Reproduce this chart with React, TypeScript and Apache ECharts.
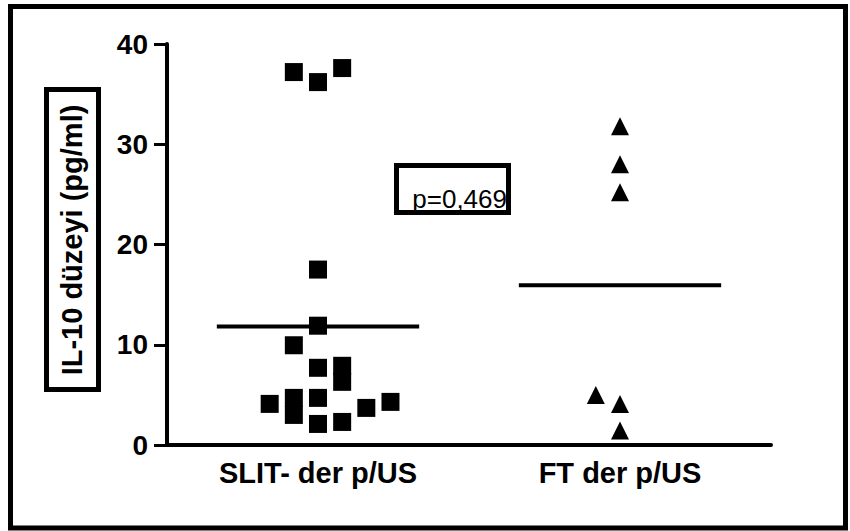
import React, { useEffect, useRef } from "react";
import * as echarts from "echarts";

// Group labels on the category axis
const categories = ["SLIT- der p/US", "FT der p/US"];

// IL-10 levels (pg/ml) per group, with the column each point is nudged into
const slitValues = [37.2, 36.2, 37.6, 17.5, 11.9, 9.95, 7.7, 7.9, 6.3, 4.1, 4.7, 3.0, 4.7, 2.1, 2.3, 3.7, 4.3];
const slitColumns = [-1, 0, 1, 0, 0, -1, 0, 1, 1, -2, -1, -1, 0, 0, 1, 2, 3];
const ftValues = [31.8, 28.0, 25.2, 5.0, 4.1, 1.45];
const ftColumns = [0, 0, 0, -1, 0, 0];

// Value-axis ticks
const yMin = 0;
const yMax = 40;
const yStep = 10;

const pLabel = "p=0,469";
const yTitle = "IL-10 düzeyi (pg/ml)";

const COLUMN_STEP = 0.08; // horizontal spread between neighbouring points
const MEAN_HALF = 0.335; // half-length of the mean bar
const FONT = '"Liberation Sans", Arial, sans-serif';

const mean = (a: number[]) => a.reduce((s, v) => s + v, 0) / a.length;

export default function App() {
  const ref = useRef<HTMLDivElement>(null);

  useEffect(() => {
    if (!ref.current) return;
    const chart = echarts.init(ref.current, undefined, { renderer: "svg" });

    const toPoints = (center: number, vals: number[], cols: number[]) =>
      vals.map((v, i) => [center + cols[i] * COLUMN_STEP, v]);
    const meanBar = (center: number, vals: number[]) => {
      const m = mean(vals);
      return [
        [center - MEAN_HALF, m],
        [center + MEAN_HALF, m],
      ];
    };

    chart.setOption({
      animation: false,
      backgroundColor: "#ffffff",
      grid: { left: 167, right: 79, top: 44, bottom: 86, containLabel: false },
      xAxis: [
        {
          type: "category",
          data: categories,
          boundaryGap: true,
          axisLine: { lineStyle: { color: "#000", width: 4 } },
          axisTick: { alignWithLabel: true, length: 11, lineStyle: { color: "#000", width: 3 } },
          axisLabel: {
            margin: 13,
            color: "#000",
            fontFamily: FONT,
            fontWeight: "bold",
            fontSize: 29,
          },
          splitLine: { show: false },
        },
        { type: "value", min: 0, max: 2, show: false },
      ],
      yAxis: {
        type: "value",
        min: yMin,
        max: yMax,
        interval: yStep,
        axisLine: { show: true, lineStyle: { color: "#000", width: 4 } },
        axisTick: { show: true, length: 13, lineStyle: { color: "#000", width: 3 } },
        axisLabel: {
          margin: 19,
          color: "#000",
          fontFamily: FONT,
          fontWeight: "bold",
          fontSize: 28,
        },
        splitLine: { show: false },
      },
      series: [
        {
          type: "scatter",
          xAxisIndex: 1,
          symbol: "rect",
          symbolSize: 18,
          itemStyle: { color: "#000", opacity: 1 },
          data: toPoints(0.5, slitValues, slitColumns),
        },
        {
          type: "scatter",
          xAxisIndex: 1,
          symbol: "triangle",
          symbolSize: 18,
          itemStyle: { color: "#000", opacity: 1 },
          data: toPoints(1.5, ftValues, ftColumns),
        },
        {
          type: "line",
          xAxisIndex: 1,
          symbol: "none",
          lineStyle: { color: "#000", width: 4 },
          data: meanBar(0.5, slitValues),
        },
        {
          type: "line",
          xAxisIndex: 1,
          symbol: "none",
          lineStyle: { color: "#000", width: 4 },
          data: meanBar(1.5, ftValues),
        },
      ],
      graphic: [
        {
          type: "rect",
          shape: { x: 10.5, y: 6.5, width: 835, height: 521.5 },
          style: { fill: "none", stroke: "#000", lineWidth: 5 },
          silent: true,
        },
        {
          type: "rect",
          shape: { x: 46.5, y: 89.5, width: 52, height: 300 },
          style: { fill: "#fff", stroke: "#000", lineWidth: 5 },
          silent: true,
        },
        {
          type: "text",
          x: 72,
          y: 240,
          rotation: Math.PI / 2,
          style: {
            text: yTitle,
            font: `bold 29px ${FONT}`,
            fill: "#000",
            align: "center",
            verticalAlign: "middle",
          },
          silent: true,
        },
        {
          type: "rect",
          shape: { x: 396.5, y: 165.5, width: 112, height: 47 },
          style: { fill: "#fff", stroke: "#000", lineWidth: 5 },
          silent: true,
        },
        {
          type: "text",
          x: 507,
          y: 212,
          style: {
            text: pLabel,
            font: `normal 26px ${FONT}`,
            fill: "#000",
            align: "right",
            verticalAlign: "bottom",
          },
          silent: true,
        },
      ],
    });

    return () => chart.dispose();
  }, []);

  return (
    <div
      ref={ref}
      style={{ position: "absolute", left: 0, top: 0, width: 850, height: 531, background: "#fff" }}
    />
  );
}
